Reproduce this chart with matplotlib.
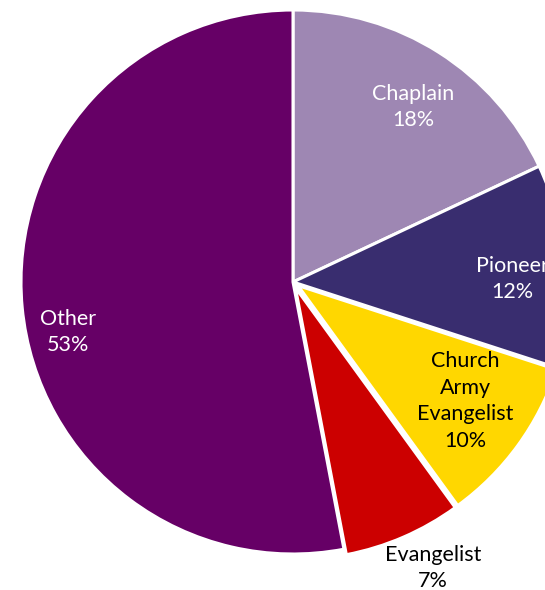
import matplotlib
matplotlib.use("Agg")
import matplotlib.pyplot as plt

plt.rcParams['font.family'] = ['Lato', 'DejaVu Sans']

roles = ['Chaplain', 'Pioneer', 'Church\nArmy\nEvangelist', 'Evangelist', 'Other']
shares = [18, 12, 10, 7, 53]
colors = ['#9e87b3', '#392d6f', '#ffd700', '#cc0000', '#660066']
text_colors = ['white', 'white', 'black', 'black', 'white']

# label anchor points in pixel space (origin at top-left)
label_xy = [(413, 107), (512, 279), (465, 401), (433, 568), (68, 332)]

fig = plt.figure(figsize=(5.45, 5.9), dpi=100)
ax = fig.add_axes([0, 0, 1, 1])

radius = 272
cx, cy = 293, -282
wedges, _ = ax.pie(shares, colors=colors, startangle=90, counterclock=False,
                   radius=radius, center=(cx, cy),
                   explode=[0, 0, 6, 6, 0],
                   wedgeprops=dict(edgecolor='white', linewidth=2.2))

total = sum(shares)
for role, val, tc, (x, y) in zip(roles, shares, text_colors, label_xy):
    ax.text(x, -y, f'{role}\n{val / total * 100:.0f}%', color=tc,
            ha='center', va='center', fontsize=15.5, linespacing=1.4)

ax.set_xlim(0, 545)
ax.set_ylim(-590, 0)
ax.set_aspect('equal')
ax.axis('off')

fig.savefig('out.png', dpi=100)
